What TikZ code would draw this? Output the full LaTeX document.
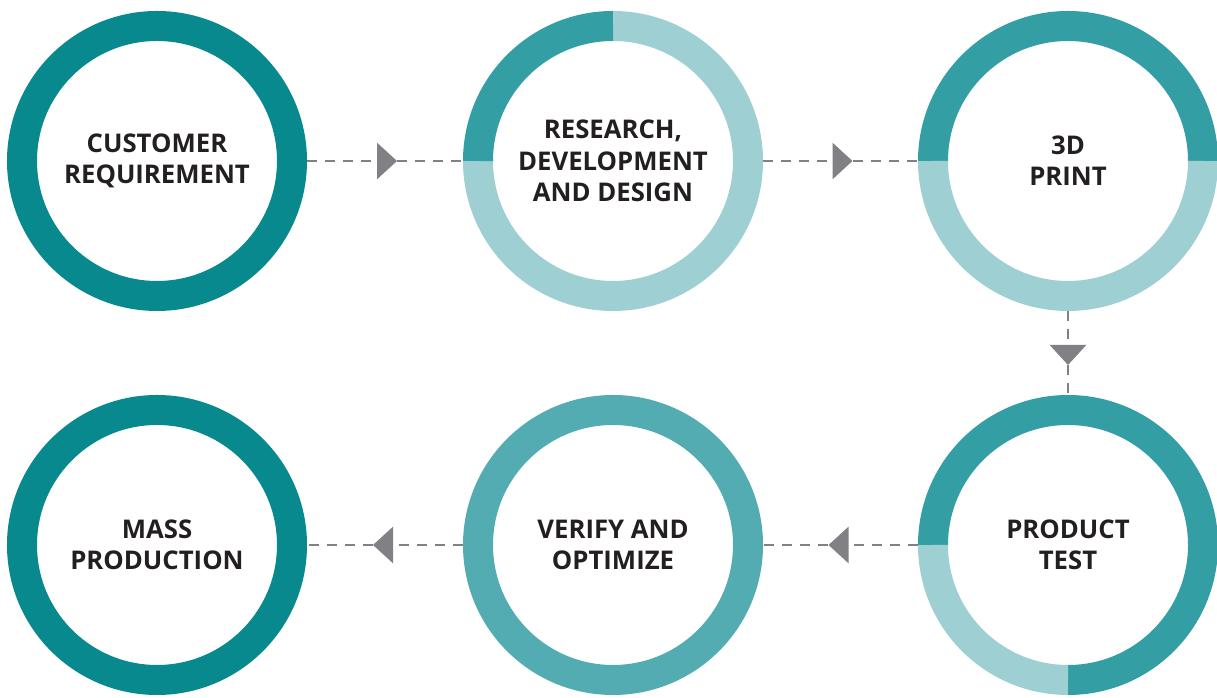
\documentclass[tikz,border=0pt]{standalone}
\usepackage{fontspec}
\setmainfont{Open Sans}
\usetikzlibrary{arrows.meta,decorations.markings}

\definecolor{ringdark}{HTML}{07898D}
\definecolor{ringmid}{HTML}{339EA3}
\definecolor{ringlight}{HTML}{9DCFD3}
\definecolor{ringsoft}{HTML}{52ACB1}
\definecolor{flowgray}{HTML}{808085}
\definecolor{labeltext}{HTML}{231F20}

\tikzset{
  stage/.style={circle, minimum size=225pt, inner sep=0pt, outer sep=0pt,
    align=center, text=labeltext, font=\fontsize{19.3}{23.5}\selectfont\bfseries},
  ring/.style={line width=22.5pt},
  flow/.style={draw=flowgray, line width=2.2pt, dash pattern=on 7.5pt off 6pt,
    postaction={decorate},
    decoration={markings, mark=at position 0.5 with
      {\arrow[xshift=9pt]{Triangle[length=15pt,width=27pt]}}}}
}

\begin{document}
\begin{tikzpicture}[x=0.75pt,y=0.75pt]
  \useasboundingbox (0,0) rectangle (1217,698);

  \node[stage] (cust)   at (157,537)  {CUSTOMER\\REQUIREMENT};
  \node[stage] (rnd)    at (613,537)  {RESEARCH,\\DEVELOPMENT\\AND DESIGN};
  \node[stage] (print)  at (1068,537) {3D\\PRINT};
  \node[stage] (test)   at (1068,153) {PRODUCT\\TEST};
  \node[stage] (verify) at (613,153)  {VERIFY AND\\OPTIMIZE};
  \node[stage] (mass)   at (157,153)  {MASS\\PRODUCTION};

  % rings
  \draw[ring, ringdark] (cust.center) circle (135);
  \draw[ring, ringlight] ([shift={(180:135)}]rnd.center) arc (180:450:135);
  \draw[ring, ringmid] ([shift={(90:135)}]rnd.center) arc (90:180:135);
  \draw[ring, ringmid] ([shift={(0:135)}]print.center) arc (0:180:135);
  \draw[ring, ringlight] ([shift={(180:135)}]print.center) arc (180:360:135);
  \draw[ring, ringmid] ([shift={(-90:135)}]test.center) arc (-90:180:135);
  \draw[ring, ringlight] ([shift={(180:135)}]test.center) arc (180:270:135);
  \draw[ring, ringsoft] (verify.center) circle (135);
  \draw[ring, ringdark] (mass.center) circle (135);

  % connectors
  \draw[flow] (cust.east) -- (rnd.west);
  \draw[flow] (rnd.east) -- (print.west);
  \draw[flow] (print.south) -- (test.north);
  \draw[flow] (test.west) -- (verify.east);
  \draw[flow] (verify.west) -- (mass.east);
\end{tikzpicture}
\end{document}
